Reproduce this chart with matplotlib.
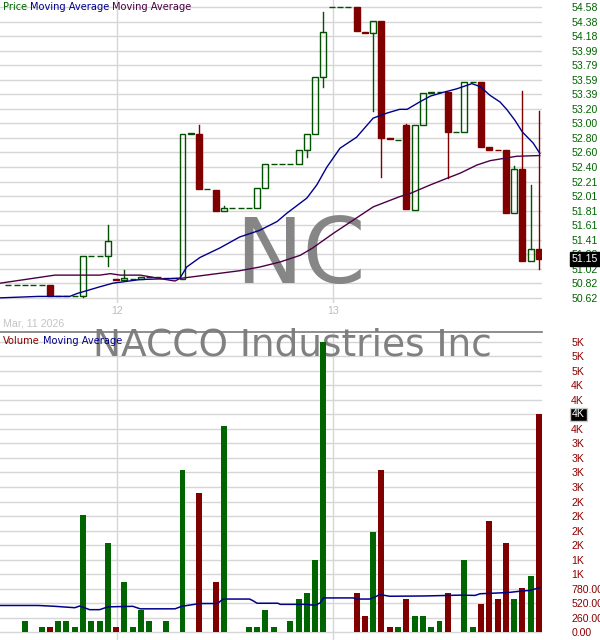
import matplotlib
matplotlib.use("Agg")
import matplotlib.pyplot as plt
import matplotlib.transforms as mtransforms
from matplotlib.patches import Rectangle

# one bar per slot, slot -2 .. 62
slots = list(range(-2, 63))

opens = [50.79, 50.79, 50.79, 50.79, 50.79, 50.79, 50.64, 50.64, 50.64, 50.65,
         51.19, 51.19, 51.19, 50.88, 50.87, 50.88, 50.88, 50.90, 50.90, 50.89,
         50.89, 50.88, 52.86, 52.86, 52.10, 52.09, 51.80, 51.84, 51.84, 51.84,
         51.84, 52.12, 52.44, 52.44, 52.44, 52.44, 52.63, 52.86, 53.63, 54.58,
         54.58, 54.58, 54.58, 54.25, 54.23, 54.40, 52.80, 52.77, 52.975, 51.82,
         52.97, 53.41, 53.42, 53.43, 52.88, 52.88, 53.56, 53.56, 52.67, 52.64,
         52.635, 51.77, 52.375, 51.12, 51.285]
highs = [50.79, 50.79, 50.79, 50.79, 50.79, 50.79, 50.64, 50.64, 50.64, 51.19,
         51.19, 51.19, 51.61, 50.88, 51.00, 50.88, 50.90, 50.90, 50.90, 50.89,
         50.89, 52.86, 52.86, 52.975, 52.10, 52.09, 51.87, 51.84, 51.84, 51.84,
         52.12, 52.44, 52.44, 52.44, 52.44, 52.63, 52.86, 53.63, 54.51, 54.58,
         54.58, 54.58, 54.58, 54.25, 54.40, 54.40, 52.80, 52.77, 52.99, 52.97,
         53.41, 53.42, 53.42, 53.43, 52.88, 53.56, 53.56, 53.56, 52.67, 52.64,
         52.635, 52.42, 53.44, 52.16, 53.17]
lows = [50.79, 50.79, 50.79, 50.79, 50.79, 50.64, 50.64, 50.64, 50.64, 50.63,
        51.19, 51.19, 51.06, 50.87, 50.87, 50.88, 50.88, 50.90, 50.90, 50.89,
        50.89, 50.88, 52.86, 52.10, 52.10, 51.81, 51.80, 51.84, 51.84, 51.84,
        51.84, 52.12, 52.44, 52.44, 52.44, 52.44, 52.54, 52.86, 53.49, 54.58,
        54.58, 54.58, 54.26, 54.23, 53.17, 52.27, 52.79, 52.77, 51.83, 51.82,
        52.97, 53.41, 53.42, 52.25, 52.88, 52.88, 53.56, 52.68, 52.64, 52.63,
        51.78, 51.77, 51.125, 51.12, 51.01]
closes = [50.79, 50.79, 50.79, 50.79, 50.79, 50.64, 50.64, 50.64, 50.64, 51.19,
          51.19, 51.19, 51.39, 50.87, 50.89, 50.88, 50.90, 50.90, 50.90, 50.89,
          50.89, 52.86, 52.86, 52.10, 52.10, 51.81, 51.84, 51.84, 51.84, 51.84,
          52.12, 52.44, 52.44, 52.44, 52.44, 52.63, 52.86, 53.63, 54.25, 54.58,
          54.58, 54.58, 54.26, 54.23, 54.40, 52.80, 52.79, 52.77, 51.83, 52.97,
          53.41, 53.42, 53.42, 52.88, 52.88, 53.56, 53.56, 52.68, 52.64, 52.63,
          51.78, 52.37, 51.125, 51.28, 51.15]
volumes = [0, 0, 200, 0, 100, 100, 200, 200, 100, 2100,
           200, 200, 1600, 100, 900, 100, 400, 200, 0, 200,
           0, 2900, 0, 2500, 0, 900, 3700, 0, 0, 100,
           100, 400, 100, 0, 200, 600, 700, 1300, 5200, 0,
           0, 0, 700, 300, 1800, 2900, 100, 100, 600, 300,
           300, 100, 200, 700, 0, 1300, 100, 500, 2000, 600,
           1600, 600, 800, 1000, 3900]

# moving averages at these slot positions
ma_fast_x = [-3.0, 1.6, 5.4, 6.3, 9.0, 10.6, 13.9, 18.1, 18.7, 19.5, 21.1, 23.5,
             25.9, 28.3, 30.4, 31.6, 34.0, 35.2, 36.4, 38.0, 40.0, 42.0, 43.7,
             45.2, 46.1, 47.6, 48.9, 50.4, 52.1, 53.9, 54.9, 56.1, 57.3, 58.1,
             59.1, 60.0, 61.3, 62.1]
ma_fast = [50.62, 50.64, 50.64, 50.68, 50.77, 50.82, 50.87, 50.885, 50.89, 51.04,
           51.17, 51.30, 51.45, 51.54, 51.66, 51.775, 51.98, 52.16, 52.40, 52.66,
           52.81, 53.07, 53.14, 53.19, 53.19, 53.29, 53.37, 53.42, 53.47, 53.54,
           53.50, 53.38, 53.29, 53.19, 53.04, 52.88, 52.73, 52.59]
ma_slow_x = [-3.0, -0.6, 3.6, 9.0, 10.3, 11.5, 13.9, 17.5, 18.1, 18.7, 21.1, 25.9,
             28.3, 30.8, 33.2, 34.7, 37.2, 39.6, 42.0, 45.2, 46.4, 48.9, 50.9,
             52.5, 54.5, 56.1, 57.7, 59.3, 62.1]
ma_slow = [50.82, 50.86, 50.93, 50.93, 50.95, 50.93, 50.93, 50.86, 50.85, 50.885,
           50.92, 50.99, 51.04, 51.11, 51.20, 51.30, 51.50, 51.68, 51.86, 52.00,
           52.04, 52.16, 52.25, 52.32, 52.43, 52.49, 52.52, 52.55, 52.56]
vol_ma_x = [-3.0, 1.6, 3.6, 6.0, 6.6, 7.8, 9.0, 10.0, 13.0, 13.9, 18.1, 18.9,
            21.1, 23.2, 23.9, 27.1, 27.5, 28.0, 30.5, 30.8, 34.0, 34.4, 35.0,
            35.6, 36.0, 39.6, 40.0, 41.6, 42.2, 42.8, 44.0, 48.2, 52.5, 54.3,
            54.9, 57.3, 58.5, 59.7, 60.9, 62.1]
vol_ma = [480, 480, 465, 440, 470, 405, 405, 455, 465, 420, 420, 465,
          515, 515, 595, 595, 565, 520, 520, 500, 500, 490, 485,
          525, 615, 615, 595, 595, 630, 675, 645, 650, 665, 660,
          690, 705, 715, 735, 750, 800]

price_ticks = [50.6225 + k * 0.1979 for k in range(21)]
vol_ticks = [k * 260 for k in range(21)]
hour_ticks = [11.1, 37.15]
hour_labels = ["12", "13"]
last_price = 51.15
last_volume = 3900

GREEN = "#005000"
RED = "#800000"
BLUE = "#00008b"
PURPLE = "#4b0045"
GRID = "#d6d6d6"

fig = plt.figure(figsize=(6, 6.4), dpi=100)
W, H = 600, 640


def pix_axes(x0, y0, x1, y1):
    return fig.add_axes([x0 / W, 1 - y1 / H, (x1 - x0) / W, (y1 - y0) / H])


ax_p = pix_axes(0, 0, 542, 303)
ax_v = pix_axes(0, 332.3, 542, 640)

xmin = -25 / 8.29
xmax = xmin + 542 / 8.29
bw = 0.72

# ---- price panel
ax_p.set_xlim(xmin, xmax)
ax_p.set_ylim(50.550, 54.680)
for s, o, h, l, c in zip(slots, opens, highs, lows, closes):
    col = RED if c < o else GREEN
    top = max(o, c)
    bot = min(o, c)
    if h > top:
        ax_p.plot([s, s], [top, h], color=col, lw=1, zorder=3)
    if l < bot:
        ax_p.plot([s, s], [l, bot], color=col, lw=1, zorder=3)
    face = RED if c < o else "none"
    ax_p.add_patch(Rectangle((s - bw / 2, bot), bw, max(top - bot, 0.002),
                             facecolor=face, edgecolor=col, lw=1, zorder=4))

ax_p.plot(ma_fast_x, ma_fast, color=BLUE, lw=1, zorder=5)
ax_p.plot(ma_slow_x, ma_slow, color=PURPLE, lw=1, zorder=5)

ax_p.set_yticks(price_ticks)
ax_p.set_yticklabels(["%.2f" % v for v in price_ticks])
ax_p.yaxis.tick_right()
ax_p.tick_params(axis="y", length=0, pad=21, labelcolor="#006400", labelsize=7.6)
ax_p.set_xticks(hour_ticks)
ax_p.set_xticklabels(hour_labels)
ax_p.tick_params(axis="x", length=0, pad=2, labelcolor="#bdbdbd", labelsize=7.6)
for lab in ax_p.get_xticklabels() + ax_p.get_yticklabels():
    lab.set_family("Liberation Sans")
ax_p.grid(True, color=GRID, lw=1, zorder=0)
ax_p.set_axisbelow(True)
for sp in ax_p.spines.values():
    sp.set_visible(False)

tr_p = mtransforms.blended_transform_factory(ax_p.transAxes, ax_p.transData)
ax_p.text(1 + 30 / 542, last_price, "%.2f" % last_price, transform=tr_p,
          ha="left", va="center", color="white", fontsize=7.6,
          family="Liberation Sans", zorder=10, clip_on=False,
          bbox=dict(facecolor="black", edgecolor="black", pad=1.2))

# watermark ticker
ax_p.text(300 / W, 1 - 283.3 / H, "NC", transform=fig.transFigure,
          ha="center", va="baseline", fontsize=65, color="#808080",
          zorder=2, alpha=0.95)

# ---- volume panel
ax_v.set_xlim(xmin, xmax)
ax_v.set_ylim(-137.8, 5368)
vcols = [RED if c < o else "#006400" for o, c in zip(opens, closes)]
ax_v.bar(slots, volumes, width=bw, color=vcols, zorder=3)
ax_v.plot(vol_ma_x, vol_ma, color=BLUE, lw=1.1, zorder=4)

ax_v.set_yticks(vol_ticks)
ax_v.set_yticklabels(["%.2f" % v if v < 1000 else "%dK" % round(v / 1000)
                      for v in vol_ticks])
ax_v.yaxis.tick_right()
ax_v.tick_params(axis="y", length=0, pad=21, labelcolor="#8b0000", labelsize=7.6)
ax_v.set_xticks(hour_ticks)
ax_v.set_xticklabels([])
ax_v.tick_params(axis="x", length=0)
for lab in ax_v.get_yticklabels():
    lab.set_family("Liberation Sans")
ax_v.grid(True, color=GRID, lw=1, zorder=0)
ax_v.set_axisbelow(True)
for name, sp in ax_v.spines.items():
    sp.set_visible(name == "top")
ax_v.spines["top"].set_color("#7a7a7a")
ax_v.spines["top"].set_linewidth(1.2)

tr_v = mtransforms.blended_transform_factory(ax_v.transAxes, ax_v.transData)
ax_v.text(1 + 30 / 542, last_volume, "%dK" % round(last_volume / 1000),
          transform=tr_v, ha="left", va="center", color="white", fontsize=7.6,
          family="Liberation Sans", zorder=10, clip_on=False,
          bbox=dict(facecolor="black", edgecolor="#c8c8c8", pad=1.2))

# watermark company name
ax_v.text(93 / W, 1 - 355 / H, "NACCO Industries Inc", transform=fig.transFigure,
          ha="left", va="baseline", fontsize=27, color="#808080", zorder=1)

# ---- legends and date
renderer = fig.canvas.get_renderer()


def legend_row(x, y, parts):
    for txt, col in parts:
        t = fig.text(x / W, 1 - y / H, txt, color=col, fontsize=7.1,
                     ha="left", va="top", family="DejaVu Sans")
        bb = t.get_window_extent(renderer)
        x += bb.width + 3


legend_row(3, 1.5, [("Price", "#006400"), ("Moving Average", BLUE),
                    ("Moving Average", PURPLE)])
legend_row(3, 336, [("Volume", "#8b0000"), ("Moving Average", BLUE)])

fig.text(3 / W, 1 - 319 / H, "Mar, 11 2026", color="#c4c4c4", fontsize=7.7,
         ha="left", va="top", family="Liberation Sans")

fig.savefig("out.png", dpi=100, facecolor="white")
